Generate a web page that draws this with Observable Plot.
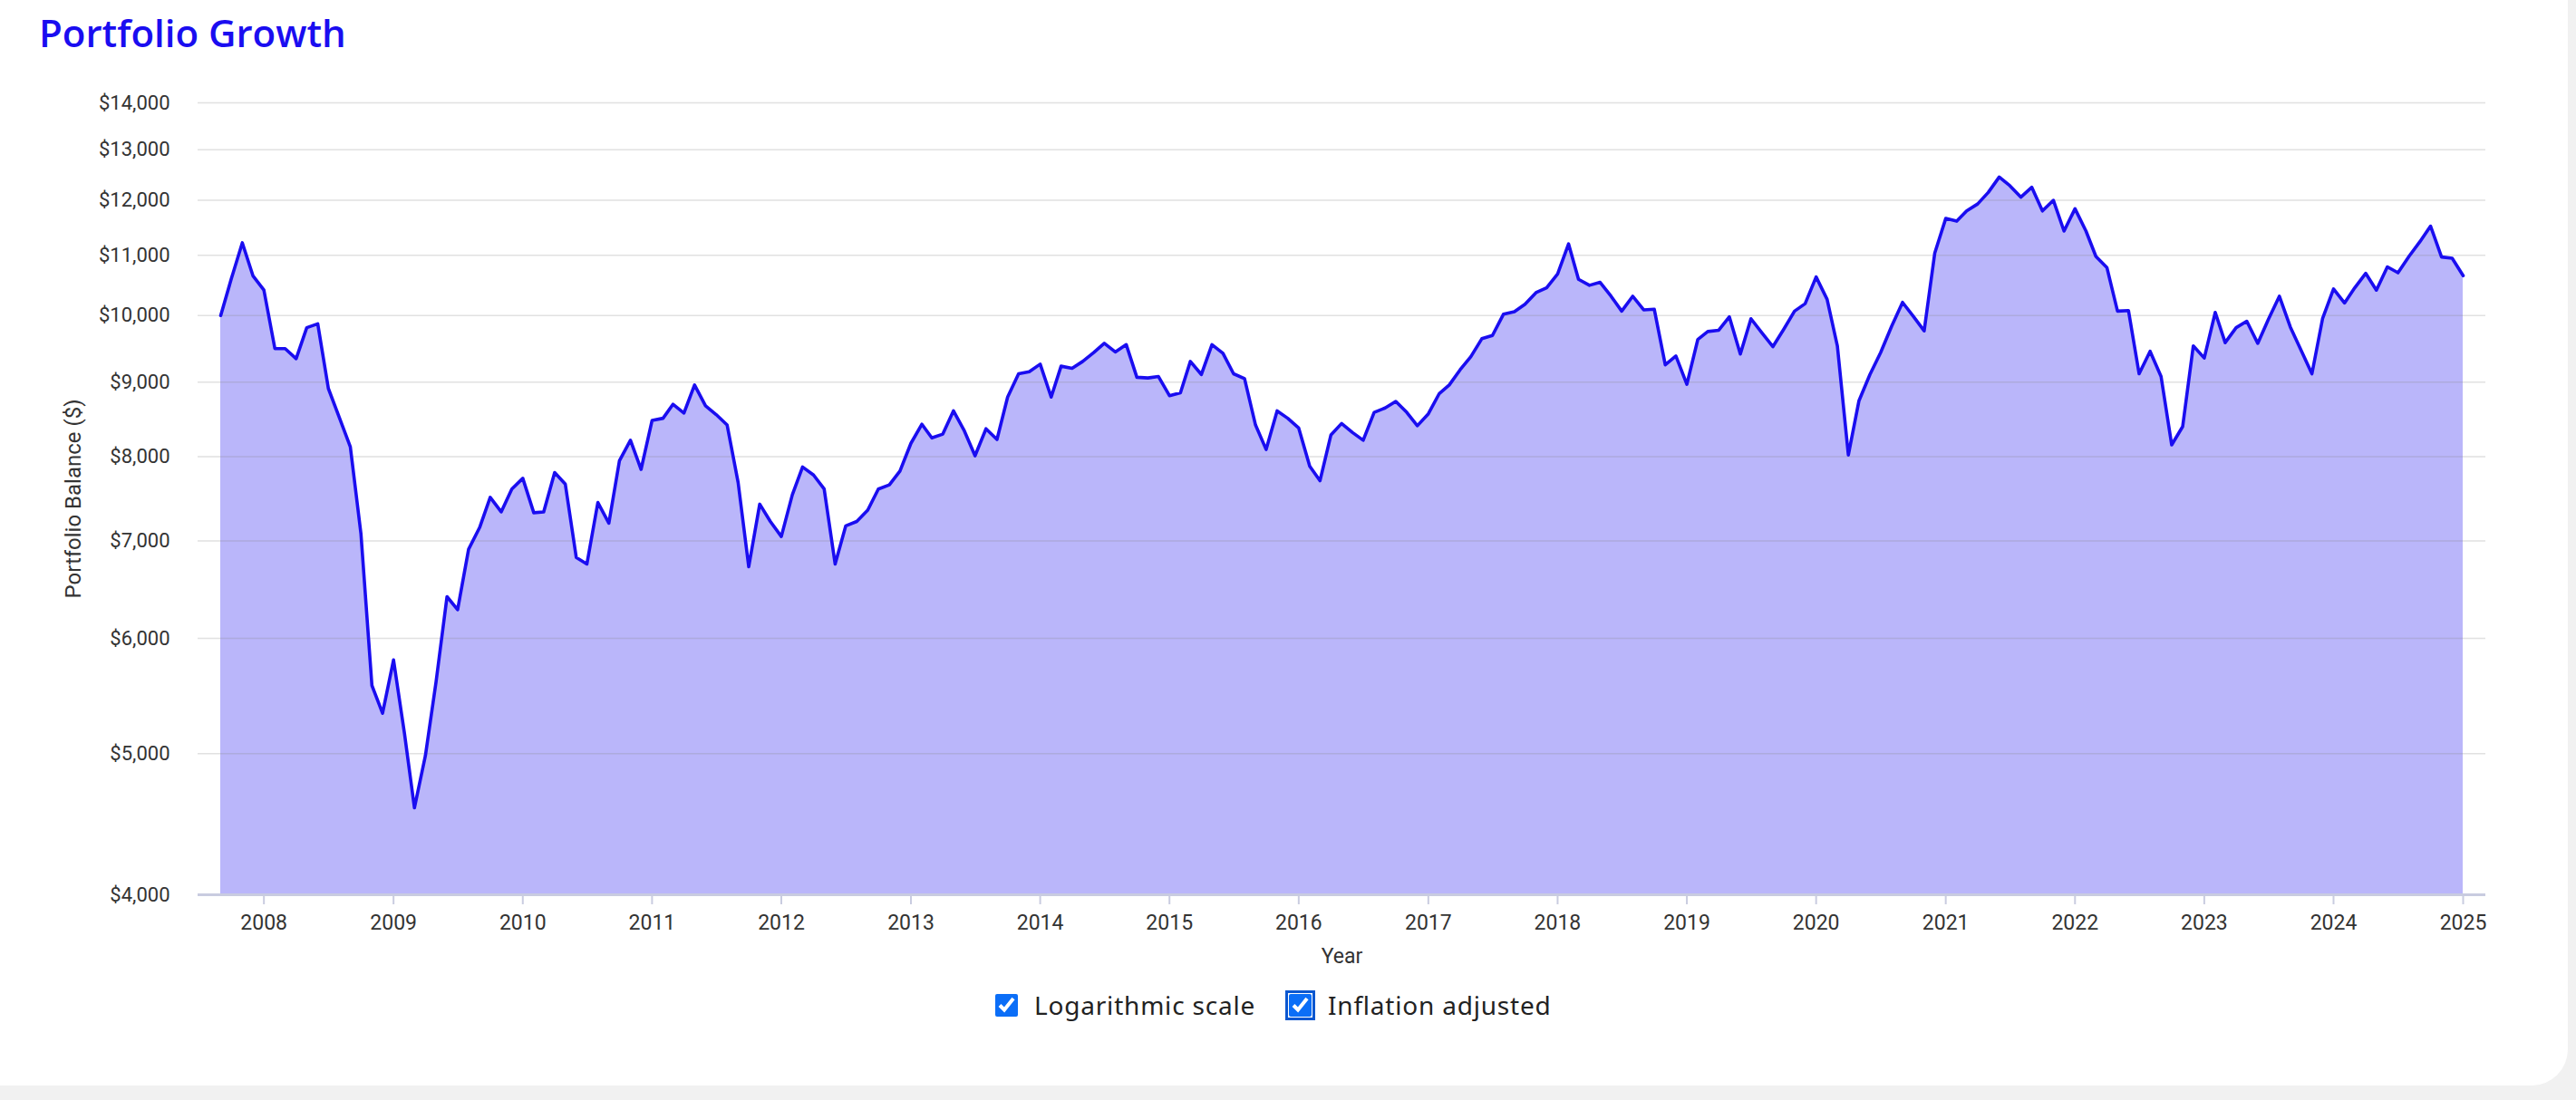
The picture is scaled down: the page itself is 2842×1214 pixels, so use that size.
<!DOCTYPE html>
<html>
<head>
<meta charset="utf-8">
<script src="https://cdn.jsdelivr.net/npm/d3@7"></script>
<script src="https://cdn.jsdelivr.net/npm/@observablehq/plot@0.6"></script>
<style>
  html, body { margin: 0; padding: 0; width: 2842px; height: 1214px; overflow: hidden; background: #f1f1f1; }
  #card { position: absolute; left: -40px; top: -40px; width: 2873px; height: 1238px; background: #fff; border-radius: 40px; }
  #wrap { position: absolute; left: 0; top: 0; width: 2842px; }
  #title { height: 80px; margin: 0; padding-left: 43px; box-sizing: border-box; font-family: "Open Sans", sans-serif; font-weight: 600; font-size: 42px; line-height: 72px; color: #1a0df0; }
  #chart svg { display: block; }
  #legend { position: relative; height: 60px; font-family: "Noto Sans", sans-serif; font-size: 28px; letter-spacing: 0.8px; color: #222; }
  #legend .item { position: absolute; top: 0; height: 58px; display: flex; align-items: center; }
  #legend input { width: 25px; height: 25px; margin: 0 18px 0 0; accent-color: #0b6ef7; }
  #legend input.focus { outline: 3px solid #0b57d0; outline-offset: 1px; border-radius: 4px; }
</style>
</head>
<body>
<div id="card"></div>
<div id="wrap">
  <div id="title">Portfolio Growth</div>
  <div id="chart"></div>
  <div id="legend">
    <div class="item" style="left:1098px"><input type="checkbox" checked><span>Logarithmic scale</span></div>
    <div class="item" style="left:1422px"><input type="checkbox" class="focus" checked><span>Inflation adjusted</span></div>
  </div>
</div>
<script>
// ---- data ----
const startMonth = "2007-09-01";
const endMonth = "2025-01-01";
// monthly inflation-adjusted portfolio balance, Sep 2007 .. Jan 2025
const monthlyBalance = [
  10000, 10600, 11220, 10650,                                                   // 2007 Sep-Dec
  10410, 9490, 9490, 9340, 9810, 9870, 8910, 8510, 8125, 7080, 5570, 5330,      // 2008
  5800, 5160, 4590, 4985, 5600, 6410, 6280, 6910, 7150, 7500, 7330, 7600,       // 2009
  7730, 7320, 7330, 7800, 7660, 6820, 6750, 7440, 7200, 7950, 8210, 7840,       // 2010
  8470, 8500, 8690, 8570, 8960, 8670, 8550, 8410, 7680, 6720, 7420, 7220,       // 2011
  7050, 7530, 7870, 7770, 7600, 6750, 7170, 7220, 7350, 7600, 7650, 7820,       // 2012
  8170, 8420, 8240, 8290, 8600, 8330, 8010, 8360, 8220, 8790, 9120, 9150,       // 2013
  9260, 8790, 9230, 9200, 9300, 9430, 9570, 9440, 9550, 9070, 9060, 9080,       // 2014
  8810, 8850, 9300, 9110, 9550, 9420, 9120, 9050, 8410, 8090, 8600, 8500,       // 2015
  8370, 7880, 7700, 8280, 8430, 8310, 8210, 8580, 8640, 8730, 8580, 8400,       // 2016
  8560, 8840, 8960, 9180, 9370, 9640, 9690, 10020, 10060, 10180, 10370, 10450,  // 2017
  10680, 11200, 10590, 10490, 10540, 10310, 10070, 10310, 10090, 10100, 9250, 9380, // 2018
  8970, 9630, 9750, 9770, 9980, 9410, 9950, 9730, 9520, 9780, 10070, 10190,     // 2019
  10630, 10260, 9530, 8020, 8740, 9110, 9430, 9830, 10210, 9990, 9760, 11040,   // 2020
  11660, 11610, 11800, 11930, 12150, 12450, 12280, 12060, 12250, 11800, 12000, 11430, // 2021
  11840, 11430, 10980, 10790, 10070, 10080, 9120, 9450, 9080, 8150, 8390, 9530, // 2022
  9350, 10050, 9580, 9810, 9910, 9570, 9940, 10310, 9820, 9470, 9120, 9950,     // 2023
  10430, 10200, 10450, 10690, 10410, 10800, 10700, 10980, 11240, 11520, 10970, 10950, // 2024
  10650                                                                          // 2025 Jan
];
const yDomain = [4000, 14000];
const yTicks = [4000, 5000, 6000, 7000, 8000, 9000, 10000, 11000, 12000, 13000, 14000];
const xTickYears = [2008, 2009, 2010, 2011, 2012, 2013, 2014, 2015, 2016, 2017, 2018, 2019, 2020, 2021, 2022, 2023, 2024, 2025];

const lineColor = "#1a0df0";
const axisColor = "#c9cce0";

const start = new Date(startMonth);
const data = monthlyBalance.map((v, i) => ({date: d3.utcMonth.offset(start, i), value: v}));
const xTicks = xTickYears.map(y => new Date(Date.UTC(y, 0, 1)));

const chart = Plot.plot({
  width: 2842,
  height: 1000,
  marginTop: 33,
  marginBottom: 93,
  marginLeft: 218,
  marginRight: 100,
  style: {fontFamily: "Roboto, sans-serif", fontSize: "22px", color: "#333", background: "transparent", overflow: "visible"},
  x: {type: "utc", domain: [start, new Date(endMonth)], insetLeft: 25, insetRight: 25},
  y: {type: "log", domain: yDomain},
  marks: [
    Plot.areaY(data, {x: "date", y1: yDomain[0], y2: "value", fill: lineColor, fillOpacity: 0.3}),
    Plot.gridY(yTicks, {stroke: "#888", strokeOpacity: 0.25, strokeWidth: 1.5}),
    Plot.ruleY([yDomain[0]], {stroke: axisColor, strokeWidth: 3}),
    Plot.lineY(data, {x: "date", y: "value", stroke: lineColor, strokeWidth: 3.6, strokeLinejoin: "round"}),
    Plot.axisY({ticks: yTicks, tickFormat: d => "$" + d3.format(",")(d), tickSize: 0, tickPadding: 31, label: null}),
    Plot.axisY({ticks: [], label: "Portfolio Balance ($)", labelAnchor: "center", labelOffset: 147, labelArrow: "none", fontSize: 24}),
    Plot.axisX({ticks: xTicks, tickFormat: "%Y", tickSize: 11, tickPadding: 11, stroke: axisColor, strokeWidth: 2,
      label: "Year", labelAnchor: "center", labelOffset: 75, labelArrow: "none", fontSize: 23})
  ]
});
document.getElementById("chart").appendChild(chart);
</script>
</body>
</html>
